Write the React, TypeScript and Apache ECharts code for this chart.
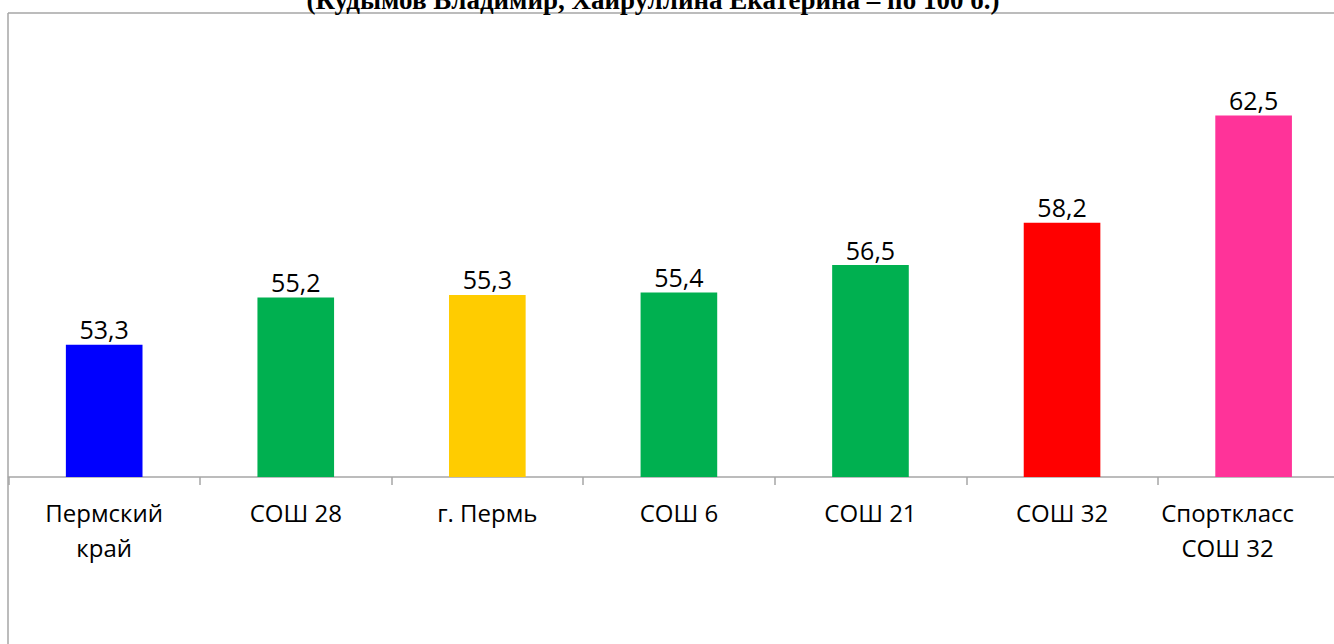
import React, { useEffect, useRef } from "react";
import * as echarts from "echarts";

const categories = ["Пермский\nкрай", "СОШ 28", "г. Пермь", "СОШ 6", "СОШ 21", "СОШ 32", "Спорткласс\nСОШ 32"];
const values = [53.3, 55.2, 55.3, 55.4, 56.5, 58.2, 62.5];
const barColors = ["#0000FF", "#00B050", "#FFCC00", "#00B050", "#00B050", "#FF0000", "#FF3399"];
const titleText = "(Кудымов Владимир, Хайруллина Екатерина – по 100 б.)";

export default function App() {
  const ref = useRef<HTMLDivElement>(null);
  useEffect(() => {
    if (!ref.current) return;
    const chart = echarts.init(ref.current, null, { renderer: "svg" });
    const font = "'Open Sans', 'Noto Sans', sans-serif";
    chart.setOption({
      animation: false,
      backgroundColor: "#ffffff",
      grid: { left: 8.4, top: 78, width: 1341, height: 399, containLabel: false, outerBoundsMode: "none" },
      xAxis: {
        type: "category",
        data: categories,
        axisLine: { show: true, lineStyle: { color: "#A6A6A6", width: 1.5 } },
        axisTick: { show: true, length: 8, alignWithLabel: false, lineStyle: { color: "#A6A6A6", width: 1.5 } },
        axisLabel: {
          interval: 0,
          margin: 18,
          color: "#000000",
          fontFamily: font,
          fontSize: 24,
          lineHeight: 35,
          formatter: (v: string, i: number) => (i === categories.length - 1 ? "{last|" + v.split("\n").join("}\n{last|") + "}" : v),
          rich: {
            last: { fontFamily: font, fontSize: 24, lineHeight: 35, color: "#000000", padding: [0, 52, 0, 0] },
          },
        },
      },
      yAxis: {
        type: "value",
        min: 48,
        max: 64,
        show: false,
        splitLine: { show: false },
      },
      series: [
        {
          type: "bar",
          data: values.map((v, i) => ({ value: v, itemStyle: { color: barColors[i] } })),
          barWidth: "40%",
          label: {
            show: true,
            position: "top",
            distance: 3,
            color: "#000000",
            fontFamily: font,
            fontSize: 25,
            formatter: (p: any) => String(p.value).replace(".", ","),
          },
        },
      ],
      graphic: [
        {
          type: "line",
          shape: { x1: 8, y1: 13, x2: 1334, y2: 13 },
          style: { stroke: "#A6A6A6", lineWidth: 1.5 },
          silent: true,
          z: 100,
        },
        {
          type: "line",
          shape: { x1: 8, y1: 13, x2: 8, y2: 644 },
          style: { stroke: "#A6A6A6", lineWidth: 1.5 },
          silent: true,
          z: 100,
        },
        {
          type: "text",
          x: 653,
          y: 0,
          style: {
            text: titleText,
            fontFamily: "'Liberation Serif', 'Times New Roman', serif",
            fontWeight: "bold",
            fontSize: 27,
            fill: "#000000",
            align: "center",
            verticalAlign: "middle",
          },
          z: 101,
        },
      ],
    });
    return () => chart.dispose();
  }, []);
  return <div ref={ref} style={{ position: "absolute", left: 0, top: 0, width: 1334, height: 644 }} />;
}
